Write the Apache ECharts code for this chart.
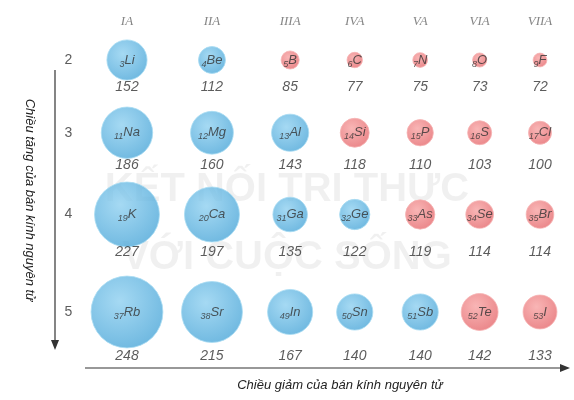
<!DOCTYPE html>
<html><head><meta charset="utf-8">
<script src="https://cdn.jsdelivr.net/npm/echarts@6/dist/echarts.min.js"></script>
<style>html,body{margin:0;background:#fff}#c{width:574px;height:400px}</style>
</head><body><div id="c"></div>
<script>
const groups = ['IA','IIA','IIIA','IVA','VA','VIA','VIIA'];
const periods = ['2','3','4','5'];
const symbols = [
  ['Li','Be','B','C','N','O','F'],
  ['Na','Mg','Al','Si','P','S','Cl'],
  ['K','Ca','Ga','Ge','As','Se','Br'],
  ['Rb','Sr','In','Sn','Sb','Te','I']];
const numbers = [
  [3,4,5,6,7,8,9],
  [11,12,13,14,15,16,17],
  [19,20,31,32,33,34,35],
  [37,38,49,50,51,52,53]];
const radii = [
  [152,112,85,77,75,73,72],
  [186,160,143,118,110,103,100],
  [227,197,135,122,119,114,114],
  [248,215,167,140,140,142,133]];
const metal = [
  [1,1,0,0,0,0,0],
  [1,1,1,0,0,0,0],
  [1,1,1,1,0,0,0],
  [1,1,1,1,1,0,0]];
// layout (axis units)
const colPos = [0,1,1.92,2.68,3.45,4.15,4.86];
const rowPos = [0,0.97,2.06,3.36];
const valOff = [0.36,0.43,0.5,0.59];

const blue = {type:'radial',x:0.4,y:0.35,r:0.7,colorStops:[{offset:0,color:'#8fd0f0'},{offset:1,color:'#4aa6d8'}]};
const red = {type:'radial',x:0.4,y:0.35,r:0.7,colorStops:[{offset:0,color:'#f7a3a3'},{offset:1,color:'#e5676b'}]};
const bubbles=[], values=[], heads=[], rows=[];
for(let r=0;r<4;r++){
  rows.push({value:[-0.69,rowPos[r]],name:periods[r]});
  for(let c=0;c<7;c++){
    bubbles.push({value:[colPos[c],rowPos[r],radii[r][c]],sym:symbols[r][c],num:numbers[r][c],
      itemStyle:{color:metal[r][c]?blue:red,borderColor:metal[r][c]?'#a9dcf3':'#f6b3b3',borderWidth:1}});
    values.push({value:[colPos[c],rowPos[r]+valOff[r]],name:String(radii[r][c])});
  }
}
groups.forEach((g,c)=>heads.push({value:[colPos[c],-0.51],name:g}));
const size = v => Math.max(0.33*v[2]-10, 11);
const txt = {fontFamily:'Liberation Sans',fontStyle:'italic',color:'#333'};
const chart = echarts.init(document.getElementById('c'));
chart.setOption({
  animation:false,
  grid:{left:59,right:34,top:15,height:342},
  xAxis:{type:'value',min:-0.8,max:4.86,show:false},
  yAxis:{type:'value',min:-0.6,max:3.96,inverse:true,show:false},
  graphic:[
    {type:'text',left:'center',top:170,z:-1,style:{text:'KẾT NỐI TRI THỨC',font:'bold 40px Liberation Sans',fill:'rgba(0,0,0,0.06)'}},
    {type:'text',left:'center',top:238,z:-1,style:{text:'VỚI CUỘC SỐNG',font:'bold 40px Liberation Sans',fill:'rgba(0,0,0,0.06)'}},
    {type:'line',shape:{x1:55,y1:70,x2:55,y2:343},style:{stroke:'#333',lineWidth:1.2}},
    {type:'polygon',shape:{points:[[51,340],[59,340],[55,350]]},style:{fill:'#333'}},
    {type:'line',shape:{x1:85,y1:368,x2:562,y2:368},style:{stroke:'#333',lineWidth:1.2}},
    {type:'polygon',shape:{points:[[560,364],[560,372],[570,368]]},style:{fill:'#333'}},
    {type:'text',x:30,y:200,rotation:-Math.PI/2,style:{text:'Chiều tăng của bán kính nguyên tử',font:'italic 13px Liberation Sans',fill:'#222',align:'center',verticalAlign:'middle'}},
    {type:'text',x:340,y:385,style:{text:'Chiều giảm của bán kính nguyên tử',font:'italic 13px Liberation Sans',fill:'#222',align:'center',verticalAlign:'middle'}}
  ],
  series:[
    {type:'scatter',data:bubbles,symbolSize:size,
      label:{show:true,position:'inside',formatter:p=>'{n|'+p.data.num+'}{s|'+p.data.sym+'}',
        rich:{n:Object.assign({fontSize:9,padding:[8,0,0,0]},txt),s:Object.assign({fontSize:13},txt)}}},
    {type:'scatter',data:values,symbolSize:0,label:{show:true,position:'inside',formatter:p=>p.name,fontSize:14,...txt}},
    {type:'scatter',data:heads,symbolSize:0,label:{show:true,position:'inside',formatter:p=>p.name,fontSize:13,fontFamily:'Liberation Serif',fontStyle:'italic',color:'#666'}},
    {type:'scatter',data:rows,symbolSize:0,label:{show:true,position:'inside',formatter:p=>p.name,fontSize:14,fontFamily:'Liberation Sans',color:'#333'}}
  ]
});
</script></body></html>
